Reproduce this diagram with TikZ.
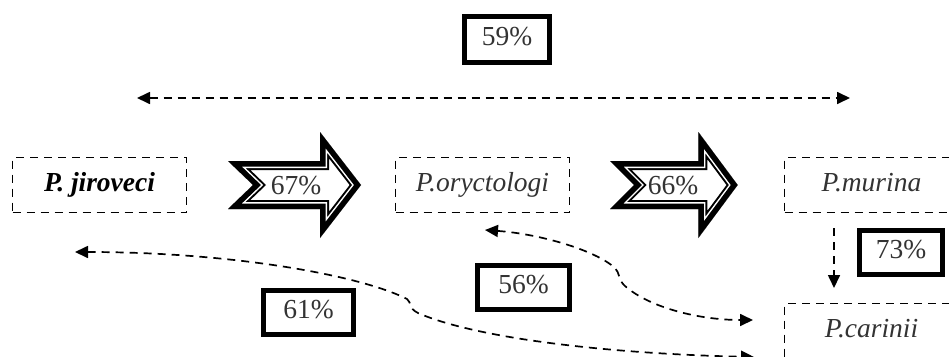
\documentclass[tikz,border=0pt]{standalone}
\usepackage{fontspec}
\setmainfont{Liberation Serif}
\usetikzlibrary{arrows.meta}
\begin{document}
\def\APATH{(0,161) -- (92,161) -- (92,132) -- (133,185) -- (92,238) -- (92,209) -- (0,209) -- (25,185) -- cycle}
\newcommand\blockarrow[2]{%
  \begin{scope}[shift={(#1,0)},xscale=#2]
    \clip \APATH;
    \draw[line width=18pt,black] \APATH;
    \draw[line width=14pt,white] \APATH;
    \draw[line width=11pt,black] \APATH;
  \end{scope}}
\begin{tikzpicture}[x=1pt,y=-1pt,
  lbl/.style={font=\fontsize{27.5}{32}\selectfont, text=black!80, text height=18pt, text depth=6pt, inner sep=0pt},
  dbox/.style={lbl, draw, line width=1.7pt, dash pattern=on 8pt off 6pt, minimum width=174pt, minimum height=55pt},
  pbox/.style={lbl, draw, line width=5pt},
  tipA/.tip={Triangle[length=13pt,width=12pt]},
  conn/.style={line width=1.7pt, dash pattern=on 8pt off 6pt},
]
\useasboundingbox (0,0) rectangle (949,356);

% dashed species boxes
\node[dbox, text=black, font=\fontsize{27.5}{32}\selectfont\bfseries\itshape] (jir) at (99.5,185) {P. jiroveci};
\node[dbox, font=\fontsize{27.5}{32}\selectfont\itshape] (ory) at (482.5,185) {P.oryctologi};
\node[dbox, font=\fontsize{27.5}{32}\selectfont\itshape] (mur) at (871.5,185) {P.murina};
\node[dbox, font=\fontsize{27.5}{32}\selectfont\itshape] (car) at (871.5,331) {P.carinii};

% percentage boxes
\node[pbox, minimum width=85pt, minimum height=46pt] (p59) at (507,39.5) {59\%};
\node[pbox, minimum width=90pt, minimum height=44pt] (p61) at (308.5,312.5) {61\%};
\node[pbox, minimum width=92pt, minimum height=44pt] (p56) at (523.5,287.5) {56\%};
\node[pbox, minimum width=83pt, minimum height=44pt] (p73) at (901,252.5) {73\%};

% block arrows
\blockarrow{228}{1}
\blockarrow{610}{0.96}
\node[lbl] (a67) at (296,188) {67\%};
\node[lbl] (a66) at (673,188) {66\%};

% connectors
\coordinate (tl) at (137,98);
\coordinate (tr) at (850,98);
\draw[conn, tipA-tipA] (tl) -- (tr);

\coordinate (va) at (834,228);
\coordinate (vb) at (834,288);
\draw[conn, -tipA] (va) -- (vb);

\coordinate (c56a) at (485,230);
\coordinate (c56b) at (753,320);
\draw[conn, tipA-tipA] (c56a) .. controls (540,234) and (595,250) .. (615,268)
   .. controls (620,273) and (618,280) .. (625,286)
   .. controls (650,308) and (700,320) .. (c56b);

\coordinate (c61a) at (75,252);
\coordinate (c61b) at (754,357);
\draw[conn, tipA-tipA] (c61a) .. controls (230,252) and (360,275) .. (407,299)
   .. controls (412,303) and (408,308) .. (418,313)
   .. controls (480,340) and (620,354) .. (c61b);
\end{tikzpicture}
\end{document}
